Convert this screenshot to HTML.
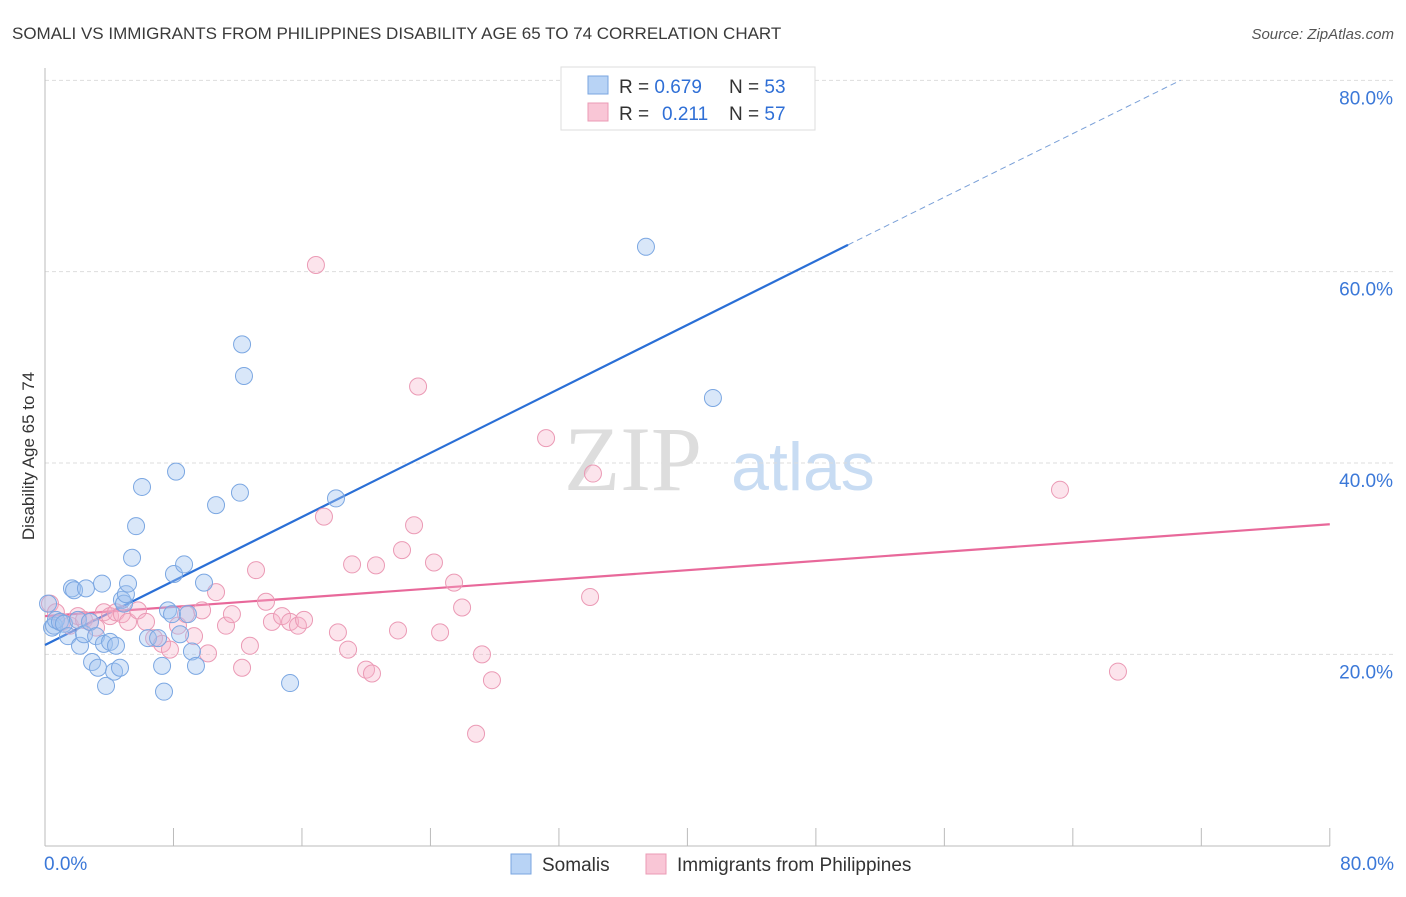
<!DOCTYPE html>
<html><head><meta charset="utf-8"><style>
body{margin:0;background:#fff;font-family:"Liberation Sans",sans-serif}
</style></head><body>
<svg id="c" width="1406" height="892" xmlns="http://www.w3.org/2000/svg">
<text x="12" y="39" font-size="17" fill="#3a3a3a">SOMALI VS IMMIGRANTS FROM PHILIPPINES DISABILITY AGE 65 TO 74 CORRELATION CHART</text>
<text x="1394" y="39" font-size="15" fill="#555" font-style="italic" text-anchor="end">Source: ZipAtlas.com</text>
<text x="34" y="456" font-size="17" fill="#333" text-anchor="middle" transform="rotate(-90 34 456)">Disability Age 65 to 74</text>
<g>
<text x="633" y="490" font-size="92" font-family="Liberation Serif,serif" fill="#ddd" text-anchor="middle">ZIP</text>
<text x="803" y="490" font-size="68" fill="#c8dcf3" text-anchor="middle">atlas</text>
</g>
<g id="grid"></g><g id="axes"></g><g id="trend"></g><g id="pts"></g>
<g>
<rect x="561" y="67" width="254" height="63" fill="#fff" stroke="#ddd"/>
<rect x="588" y="76" width="20" height="18" fill="#b8d3f5" stroke="#7aa6e0"/>
<rect x="588" y="103" width="20" height="18" fill="#f9c6d6" stroke="#eb9bb5"/>
<text x="619" y="93" font-size="19" fill="#333">R = <tspan fill="#2f6fd6">0.679</tspan></text>
<text x="729" y="93" font-size="19" fill="#333">N = <tspan fill="#2f6fd6">53</tspan></text>
<text x="619" y="120" font-size="19" fill="#333">R = <tspan x="662" fill="#2f6fd6">0.211</tspan></text>
<text x="729" y="120" font-size="19" fill="#333">N = <tspan fill="#2f6fd6">57</tspan></text>
</g>
<g>
<rect x="511" y="854" width="20" height="20" fill="#b8d3f5" stroke="#7aa6e0"/>
<text x="542" y="871" font-size="19" fill="#333">Somalis</text>
<rect x="646" y="854" width="20" height="20" fill="#f9c6d6" stroke="#eb9bb5"/>
<text x="677" y="871" font-size="19" fill="#333">Immigrants from Philippines</text>
</g>
</svg>
<script>
const blueX=[0.19,0.44,0.56,0.68,0.93,1.18,1.43,1.68,1.81,2.05,2.18,2.43,2.55,2.80,2.93,3.18,3.30,3.55,3.67,3.80,4.05,4.30,4.42,4.67,4.79,4.92,5.04,5.17,5.42,5.67,6.04,6.41,7.04,7.29,7.41,7.66,7.91,8.03,8.16,8.41,8.66,8.90,9.15,9.40,9.90,10.65,12.14,12.27,12.39,15.26,18.12,37.42,41.59];
const blueY=[25.3,22.8,23.0,23.6,23.4,23.2,21.9,26.9,26.7,23.6,20.9,22.1,26.9,23.4,19.2,21.9,18.6,27.4,21.1,16.7,21.3,18.2,20.9,18.6,25.7,25.3,26.3,27.4,30.1,33.4,37.5,21.7,21.7,18.8,16.1,24.6,24.2,28.4,39.1,22.1,29.4,24.2,20.3,18.8,27.5,35.6,36.9,52.4,49.1,17.0,36.3,62.6,46.8];
const pinkX=[0.31,0.68,1.06,1.56,2.05,2.43,2.80,3.18,3.67,4.05,4.42,4.79,5.17,5.79,6.29,6.79,7.29,7.78,8.28,8.78,9.28,9.78,10.15,10.65,11.27,11.64,12.27,12.76,13.14,13.76,14.13,14.76,15.26,15.75,16.13,16.87,17.37,18.24,18.87,19.12,19.99,20.36,20.61,21.98,22.23,22.98,23.23,24.22,24.60,25.47,25.97,27.21,26.84,27.83,31.20,33.94,34.12,63.20,66.81];
const pinkY=[25.3,24.4,23.4,23.0,24.0,23.6,23.4,22.8,24.4,24.0,24.4,24.2,23.4,24.6,23.4,21.7,21.1,20.5,23.0,24.2,21.9,24.6,20.1,26.5,23.0,24.2,18.6,20.9,28.8,25.5,23.4,24.0,23.4,23.0,23.6,60.7,34.4,22.3,20.5,29.4,18.4,18.0,29.3,22.5,30.9,33.5,48.0,29.6,22.3,27.5,24.9,20.0,11.7,17.3,42.6,26.0,38.9,37.2,18.2];
const yTicks=[20,40,60,80];
const yTickLabels=["20.0%","40.0%","60.0%","80.0%"];
const xTickLabels=["0.0%","80.0%"];
const blueTrend=[[0,20.98],[50,62.8]];
const blueDash=[[50,62.8],[70.7,80]];
const pinkTrend=[[0,24.0],[80,33.6]];
const NS="http://www.w3.org/2000/svg";
const sx=v=>45+v*16.06, sy=v=>845.7-v*9.567;
function mk(t,a,p){const e=document.createElementNS(NS,t);for(const k in a)e.setAttribute(k,a[k]);p.appendChild(e);return e;}
const grid=document.getElementById('grid'),axes=document.getElementById('axes'),trend=document.getElementById('trend'),pts=document.getElementById('pts');
yTicks.forEach((v,i)=>{
 const l=mk('line',{x1:45,x2:1393,y1:sy(v),y2:sy(v),stroke:'#ddd','stroke-dasharray':'4,3'},grid);
 
 
 const t=mk('text',{x:1393,y:sy(v)+24,'font-size':19,fill:'#3b78d8','text-anchor':'end'},axes);
 t.textContent=yTickLabels[i];
 
 
});
const ya=mk('line',{x1:45,x2:45,y1:68,y2:846,stroke:'#bbb'},axes);


const xa=mk('line',{x1:45,x2:1330,y1:846,y2:846,stroke:'#bbb'},axes);


for(let i=0;i<=10;i++){
 const tk=mk('line',{x1:sx(i*8),x2:sx(i*8),y1:828,y2:846,stroke:'#bbb'},axes);
 
 
}
[[0,'start',44],[80,'end',1394]].forEach((d,i)=>{
 const t=mk('text',{x:d[2],y:870,'font-size':19,fill:'#3b78d8','text-anchor':d[1]},axes);
 t.textContent=xTickLabels[i];
 
 
});
function pl(p,st,dash,name){const l=mk('line',{x1:sx(p[0][0]),y1:sy(p[0][1]),x2:sx(p[1][0]),y2:sy(p[1][1]),stroke:st,'stroke-width':dash?1:2.2},trend);if(dash)l.setAttribute('stroke-dasharray','6,4');
 
 }
function dots(X,Y,fill,st,name){X.forEach((x,i)=>{const c=mk('circle',{cx:sx(x),cy:sy(Y[i]),r:8.5,fill:fill,stroke:st,'stroke-width':1},pts);
 
 });}
dots(pinkX,pinkY,'rgba(246,178,200,0.35)','#eb9ab5','philippines-point');
dots(blueX,blueY,'rgba(160,196,240,0.4)','#7ba7e2','somali-point');
pl(blueTrend,'#2a6fd6',false,'somali-trendline');
pl(blueDash,'#7aa0d8',true,'somali-trendline-extension');
pl(pinkTrend,'#e8689a',false,'philippines-trendline');
</script>
</body></html>
